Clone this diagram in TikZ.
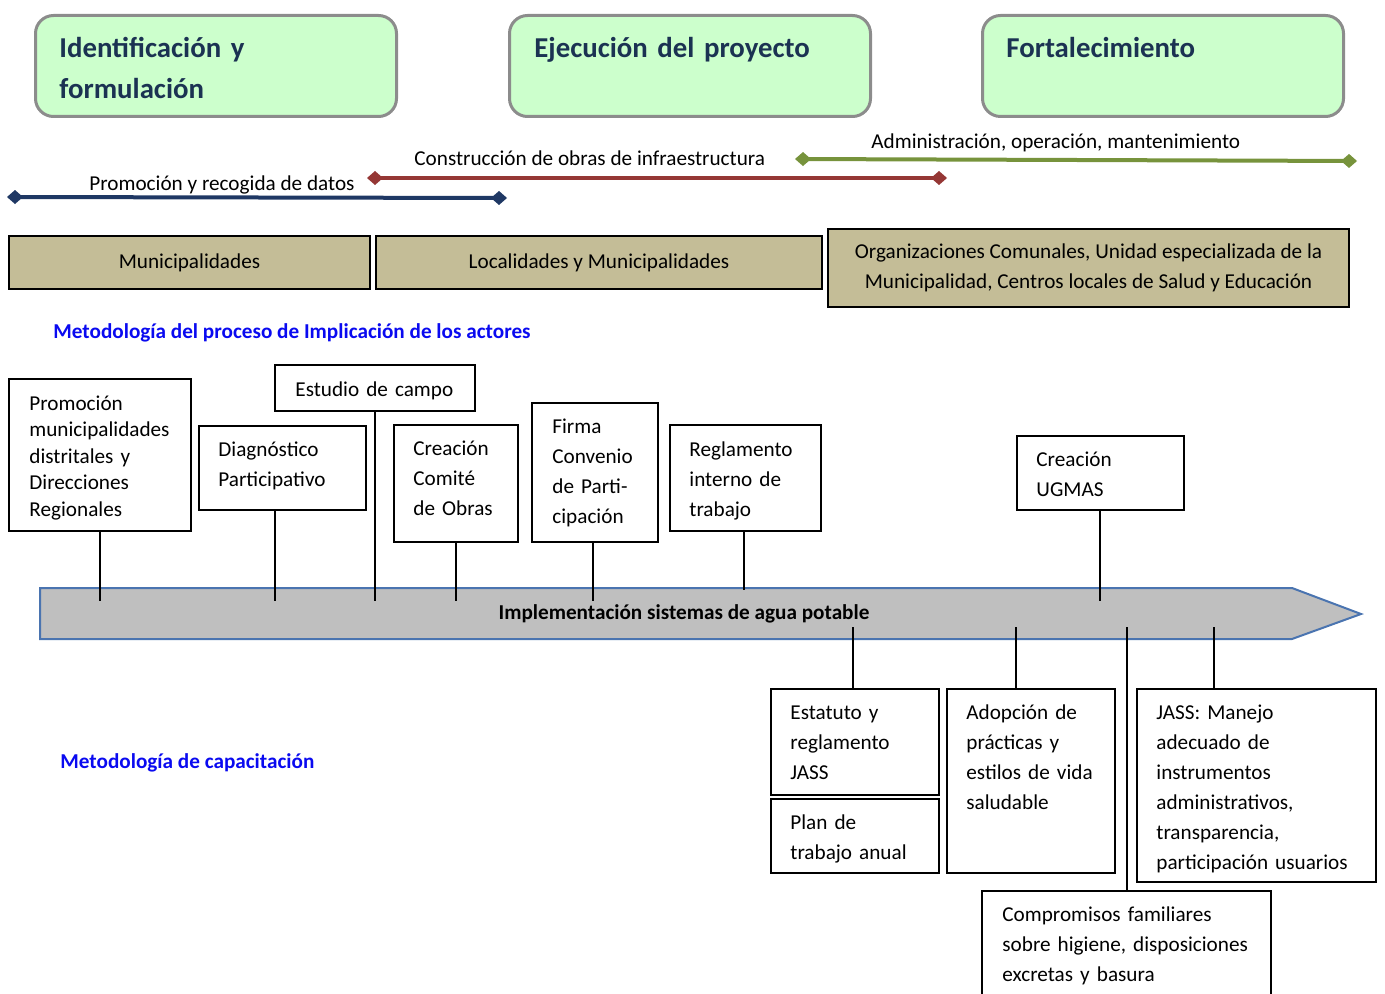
\documentclass[tikz,border=0pt]{standalone}
\usepackage{fontspec}
\setmainfont{Carlito}
\usetikzlibrary{arrows.meta,calc}
\definecolor{gfill}{HTML}{CCFFCC}
\definecolor{gdraw}{HTML}{8C8C8C}
\definecolor{navy}{HTML}{1B3252}
\definecolor{tanc}{HTML}{C4BD97}
\definecolor{lblue}{HTML}{1F3864}
\definecolor{lred}{HTML}{953735}
\definecolor{lgreen}{HTML}{77933C}
\definecolor{hblue}{HTML}{0A0AF0}
\definecolor{agray}{HTML}{BFBFBF}
\definecolor{aedge}{HTML}{4A74B0}
\begin{document}
\begin{tikzpicture}[x=0.5pt,y=-0.5pt,
 phase/.style={draw=gdraw, line width=1.5pt, fill=gfill, rounded corners=9pt, anchor=north west, inner sep=0pt, minimum width=180.5pt, minimum height=50.5pt},
 phasetxt/.style={anchor=base west, inner sep=0pt, align=left, text width=170pt, text=navy, font=\fontsize{14.4}{20.5}\selectfont\bfseries},
 actor/.style={draw=black, line width=1pt, fill=tanc, anchor=north west, inner sep=0pt, align=center, font=\fontsize{10.6}{15}\selectfont},
 stepbox/.style={draw=black, line width=1pt, fill=white, anchor=north west, inner sep=0pt},
 txt/.style={anchor=base west, inner sep=0pt, align=left, font=\fontsize{10.6}{15}\selectfont},
 heading/.style={anchor=base west, inner sep=0pt, text=hblue, font=\fontsize{10.6}{13}\selectfont\bfseries},
 rng/.style={line width=2pt, {Diamond[length=8pt,width=7pt]}-{Diamond[length=8pt,width=7pt]}},
 conn/.style={line width=1pt, draw=black},
 arrowshape/.style={fill=agray, draw=aedge, line width=1pt, line join=miter},
]
\useasboundingbox (0,0) rectangle (1385,994);

% phases
\node[phase] (ph1) at (34,14) {};
\node[phase] (ph2) at (508,14) {};
\node[phase] (ph3) at (981,14) {};
\node[phasetxt] (ph1t) at (59,58) {Identificación y\\formulación};
\node[phasetxt] (ph2t) at (534,58) {Ejecución del proyecto};
\node[phasetxt] (ph3t) at (1006,58) {Fortalecimiento};

% range lines
\coordinate (r1s) at (7,197);  \coordinate (r1e) at (507,198);
\coordinate (r2s) at (367,178); \coordinate (r2e) at (947,178);
\coordinate (r3s) at (795,159); \coordinate (r3e) at (1357,161);
\draw[rng, lblue] (r1s) -- (r1e);
\draw[rng, lred] (r2s) -- (r2e);
\draw[rng, lgreen] (r3s) -- (r3e);
\node[txt] (r1t) at (89,191) {Promoción y recogida de datos};
\node[txt] (r2t) at (414,166) {Construcción de obras de infraestructura};
\node[txt] (r3t) at (871,149) {Administración, operación, mantenimiento};

% actors
\node[actor, minimum width=180.5pt, minimum height=26.5pt] (ac1) at (8,235) {Municipalidades};
\node[actor, minimum width=223pt, minimum height=26.5pt] (ac2) at (375,235) {Localidades y Municipalidades};
\node[actor, minimum width=260.5pt, minimum height=39pt] (ac3) at (827,228) {Organizaciones Comunales, Unidad especializada de la\\Municipalidad, Centros locales de Salud y Educación};

% headings
\node[heading] (hd1) at (53,339) {Metodología del proceso de Implicación de los actores};
\node[heading] (hd2) at (60,768) {Metodología de capacitación};

% main arrow
\draw[arrowshape] (40,588) -- (1292,588) -- (1361,614) -- (1292,639) -- (40,639) -- cycle;
\node[anchor=base, inner sep=0pt, font=\fontsize{10.6}{13}\selectfont\bfseries] (impl) at (684,619) {Implementación sistemas de agua potable};
\coordinate (atop) at (0,601);
\coordinate (ftop) at (0,590);
\coordinate (abot) at (0,627);

% upper boxes
\node[stepbox, minimum width=91pt, minimum height=76pt] (A) at (8,378) {};
\node[stepbox, minimum width=83.5pt, minimum height=42pt] (B) at (198,425) {};
\node[stepbox, minimum width=100pt, minimum height=23pt] (C) at (274,364) {};
\node[stepbox, minimum width=62pt, minimum height=58.5pt] (D) at (393,424) {};
\node[stepbox, minimum width=63pt, minimum height=69.5pt] (E) at (531,402) {};
\node[stepbox, minimum width=75.5pt, minimum height=53pt] (F) at (669,424) {};
\node[stepbox, minimum width=83.5pt, minimum height=37pt] (G) at (1016,435) {};

\node[txt, text width=85pt, font=\fontsize{10.6}{13.25}\selectfont] (At) at (29,410) {Promoción\\municipalidades\\distritales y\\Direcciones\\Regionales};
\node[txt, text width=75pt] (Bt) at (218,456) {Diagnóstico\\Participativo};
\node[txt, text width=90pt] (Ct) at (295,396) {Estudio de campo};
\node[txt, text width=52pt] (Dt) at (413,455) {Creación\\Comité\\de Obras};
\node[txt, text width=52pt] (Et) at (552,433) {Firma\\Convenio\\de Parti-\\cipación};
\node[txt, text width=65pt] (Ft) at (689,456) {Reglamento\\interno de\\trabajo};
\node[txt, text width=73pt] (Gt) at (1036,466) {Creación\\UGMAS};

% lower boxes
\node[stepbox, minimum width=84pt, minimum height=53pt] (H) at (770,688) {};
\node[stepbox, minimum width=84pt, minimum height=37pt] (I) at (770,798) {};
\node[stepbox, minimum width=84pt, minimum height=92pt] (J) at (946,688) {};
\node[stepbox, minimum width=119.5pt, minimum height=96.5pt] (K) at (1136,688) {};
\node[stepbox, minimum width=144.5pt, minimum height=60pt] (L) at (981,890) {};

\node[txt, text width=74pt] (Ht) at (790,719) {Estatuto y\\reglamento\\JASS};
\node[txt, text width=74pt] (It) at (790,829) {Plan de\\trabajo anual};
\node[txt, text width=74pt] (Jt) at (966,719) {Adopción de\\prácticas y\\estilos de vida\\saludable};
\node[txt, text width=109pt] (Kt) at (1156,719) {JASS: Manejo\\adecuado de\\instrumentos\\administrativos,\\transparencia,\\participación usuarios};
\node[txt, text width=134pt] (Lt) at (1002,921) {Compromisos familiares\\sobre higiene, disposiciones\\excretas y basura};

% connectors
\coordinate (Bc) at ($(B.south)+(-7.5,0)$);
\coordinate (Ec) at ($(E.south)+(-2.5,0)$);
\coordinate (Fc) at ($(F.south)+(-2,0)$);
\coordinate (Gc) at ($(G.south)+(-1,0)$);
\coordinate (Hc) at ($(H.north)+(-2,0)$);
\coordinate (Jc) at ($(J.north west)+(70,0)$);
\coordinate (Kc) at ($(K.north west)+(78,0)$);
\draw[conn] (A.south) -- (A.south |- atop);
\draw[conn] (Bc) -- (Bc |- atop);
\draw[conn] (C.south) -- (C.south |- atop);
\draw[conn] (D.south) -- (D.south |- atop);
\draw[conn] (Ec) -- (Ec |- atop);
\draw[conn] (Fc) -- (Fc |- ftop);
\draw[conn] (Gc) -- (Gc |- atop);
\draw[conn] (Hc) -- (Hc |- abot);
\draw[conn] (Jc) -- (Jc |- abot);
\draw[conn] (L.north) -- (L.north |- abot);
\draw[conn] (Kc) -- (Kc |- abot);
\end{tikzpicture}
\end{document}
